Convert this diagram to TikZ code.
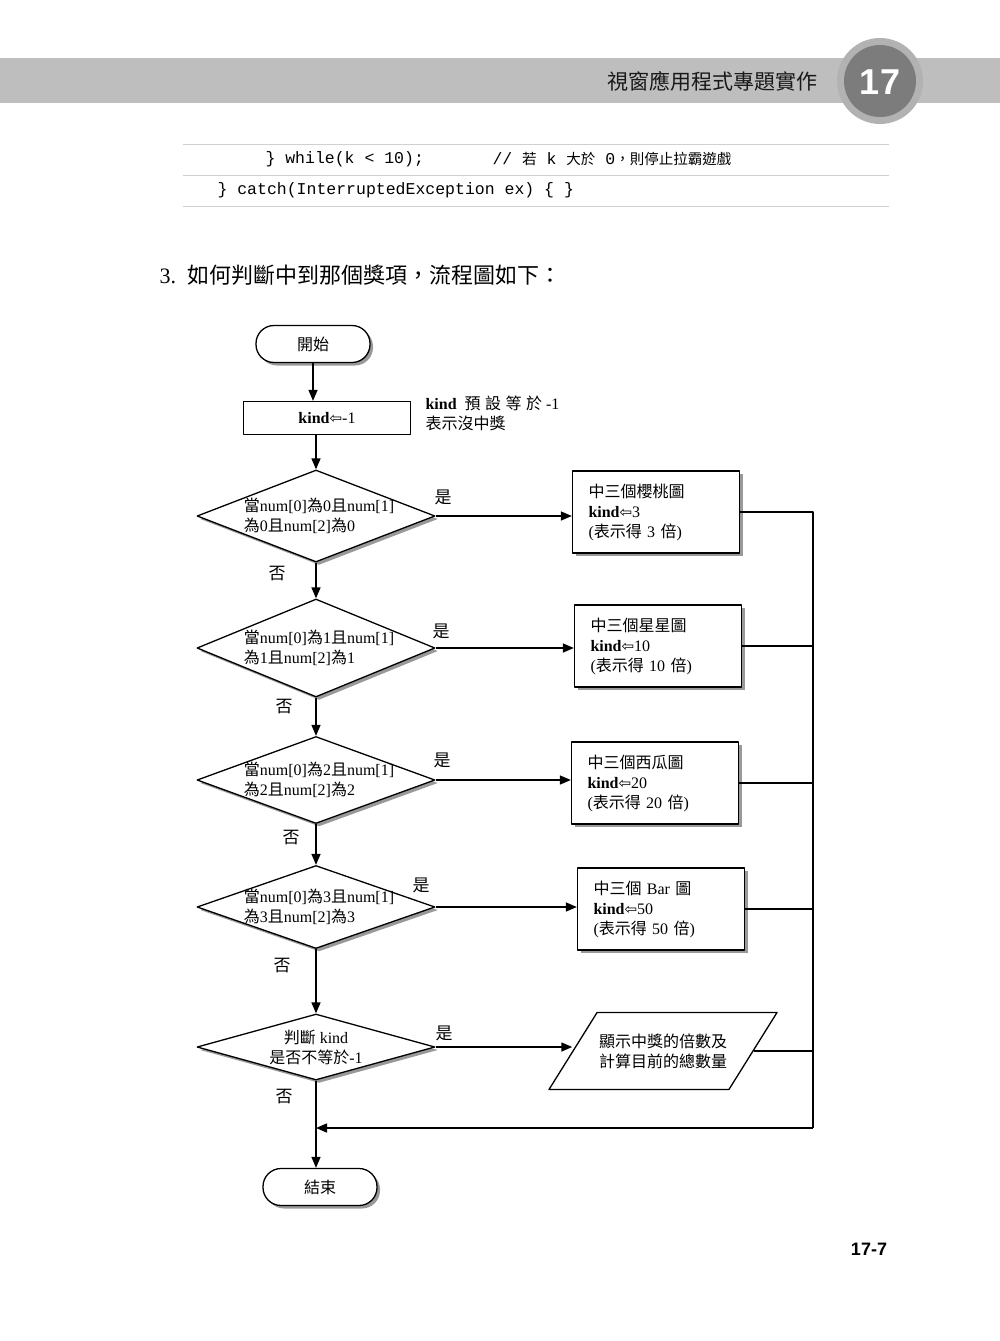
\documentclass[tikz,border=0pt]{standalone}
\usepackage{fontspec}
\setmainfont{Liberation Serif}
\setmonofont{Liberation Mono}
\newfontfamily\zhfont{Noto Sans CJK TC}
\newfontfamily\hdfont{Liberation Sans}
\newfontfamily\arrfont{DejaVu Sans}
\newcommand{\zh}[1]{{\zhfont #1}}
\newcommand{\zhs}[1]{{\zhfont\fontsize{14.5}{16}\selectfont #1}}
\newcommand{\kindarrow}{{\arrfont\fontsize{15}{15}\selectfont ⇦}}
\usetikzlibrary{shapes.geometric,shadows,arrows.meta,positioning}
\definecolor{bandgray}{HTML}{BEBEBE}
\definecolor{ringgray}{HTML}{B2B2B2}
\definecolor{diskgray}{HTML}{7C7C7C}
\definecolor{rulegray}{HTML}{D0D0D0}

\begin{document}
\begin{tikzpicture}[x=1pt, y=-1pt, >={Triangle[length=11pt, width=9pt]}, line join=round,
    font=\fontsize{16}{20}\selectfont,
    softshadow/.style={drop shadow={shadow xshift=3pt, shadow yshift=-3pt, fill=black!40, opacity=1}},
    term/.style={draw, line width=1.3pt, fill=white, rounded corners=18pt, minimum width=114pt, minimum height=37pt, softshadow},
    plain/.style={draw, line width=1.3pt, fill=white, minimum width=167pt, minimum height=33pt},
    box/.style={draw, line width=1.3pt, fill=white, align=left, text width=135pt, inner xsep=16pt, minimum height=82pt, softshadow},
    cond/.style={diamond, draw, line width=1.3pt, fill=white, inner sep=0pt, minimum width=238pt, softshadow},
    condtext/.style={align=left, font=\fontsize{16}{20}\selectfont},
    io/.style={trapezium, trapezium left angle=58, trapezium right angle=122, trapezium stretches body=true, draw, line width=1.3pt, fill=white, minimum width=228pt, inner ysep=21pt, align=center, inner xsep=0pt},
    ans/.style={font=\zhfont\fontsize{17}{17}\selectfont},
    code/.style={anchor=west, font=\ttfamily\fontsize{16.5}{18}\selectfont},
    flow/.style={->, line width=1.5pt},
    link/.style={line width=1.3pt}]
  \fill[white] (0,0) rectangle (1000,1341);
  \useasboundingbox (0,0) rectangle (1000,1341);

  % page head
  \fill[bandgray] (0,58) rectangle (1000,103);
  \fill[ringgray] (880,81) circle (43pt);
  \fill[diskgray] (880,81) circle (36pt);
  \node[font=\hdfont\bfseries\fontsize{36}{36}\selectfont, text=white] (chap) at (880,82) {17};
  \node[anchor=east, font=\zhfont\fontsize{21}{21}\selectfont, text=black!90] (ctitle) at (821,81) {視窗應用程式專題實作};

  % code lines
  \foreach \y in {144,175,206}
    \draw[rulegray, line width=0.8pt] (183,\y) -- (889,\y);
  \node[code] (loopend) at (262,159) {\} while(k < 10);};
  \node[code] (cmt) at (489,159) {// \zhs{若} k \zhs{大於} 0\zhs{，則停止拉霸遊戲}};
  \node[code] (catch) at (214,190) {\} catch(InterruptedException ex) \{ \}};

  \node[anchor=west, font=\fontsize{22}{24}\selectfont] (lead) at (156,275) {3.\hspace{11pt}\zh{如何判斷中到那個獎項，流程圖如下：}};

  % flowchart
  \node[term] (start) at (313,344) {\zh{開始}};
  \node[plain] (init) at (327,418) {\textbf{kind}\kindarrow-1};
  \node[anchor=north west, align=left] (hint) at (422,392) {\textbf{kind}~~\zh{預\;設\;等\;於}~-1\\\zh{表示沒中獎}};

  \node[cond, minimum height=92pt] (c0) at (316,516) {};
  \node[condtext] (c0t) at ([xshift=3pt]c0) {\zh{當}num[0]\zh{為}0\zh{且}num[1]\\\zh{為}0\zh{且}num[2]\zh{為}0};
  \node[cond, minimum height=98pt] (c1) at (316,648) {};
  \node[condtext] (c1t) at ([xshift=3pt]c1) {\zh{當}num[0]\zh{為}1\zh{且}num[1]\\\zh{為}1\zh{且}num[2]\zh{為}1};
  \node[cond, minimum height=87pt] (c2) at (316,780) {};
  \node[condtext] (c2t) at ([xshift=3pt]c2) {\zh{當}num[0]\zh{為}2\zh{且}num[1]\\\zh{為}2\zh{且}num[2]\zh{為}2};
  \node[cond, minimum height=83pt] (c3) at (316,907) {};
  \node[condtext] (c3t) at ([xshift=3pt]c3) {\zh{當}num[0]\zh{為}3\zh{且}num[1]\\\zh{為}3\zh{且}num[2]\zh{為}3};
  \node[cond, minimum height=66pt] (c4) at (316,1047) {};
  \node[condtext, align=center] (c4t) at (c4) {\zh{判斷} kind\\\zh{是否不等於}-1};

  \node[box] (b0) at (656,512) {\zh{中三個櫻桃圖}\\\textbf{kind}\kindarrow 3\\(\zh{表示得} 3 \zh{倍})};
  \node[box] (b1) at (658,646) {\zh{中三個星星圖}\\\textbf{kind}\kindarrow 10\\(\zh{表示得} 10 \zh{倍})};
  \node[box] (b2) at (655,783) {\zh{中三個西瓜圖}\\\textbf{kind}\kindarrow 20\\(\zh{表示得} 20 \zh{倍})};
  \node[box] (b3) at (661,909) {\zh{中三個} Bar \zh{圖}\\\textbf{kind}\kindarrow 50\\(\zh{表示得} 50 \zh{倍})};
  \node[io] (show) at (663,1051) {\zh{顯示中獎的倍數及}\\\zh{計算目前的總數量}};

  \node[term] (stop) at (320,1187) {\zh{結束}};

  % main line
  \draw[flow] (start) -- (start |- init.north);
  \draw[flow] (init.south -| c0.north) -- (c0.north);
  \draw[flow] (c0) -- (c1);
  \draw[flow] (c1) -- (c2);
  \draw[flow] (c2) -- (c3);
  \draw[flow] (c3) -- (c4);
  \draw[flow] (c4.south) -- (c4.south |- stop.north);

  % yes branches
  \draw[flow] (c0.east) -- (c0.east -| b0.west);
  \draw[flow] (c1.east) -- (c1.east -| b1.west);
  \draw[flow] (c2.east) -- (c2.east -| b2.west);
  \draw[flow] (c3.east) -- (c3.east -| b3.west);
  \draw[flow] (c4.east) -- (c4.east -| show.west);

  \node[ans] (y0) at (443,497) {是};
  \node[ans] (y1) at (441,631) {是};
  \node[ans] (y2) at (442,760) {是};
  \node[ans] (y3) at (421,885) {是};
  \node[ans] (y4) at (444,1033) {是};
  \node[ans] (n0) at (277,574) {否};
  \node[ans] (n1) at (284,707) {否};
  \node[ans] (n2) at (291,838) {否};
  \node[ans] (n3) at (282,966) {否};
  \node[ans] (n4) at (284,1097) {否};

  % back to the end
  \coordinate (busend) at (813,1128);
  \draw[link] (b0.east) -| (busend);
  \foreach \b in {b1,b2,b3,show}
    \draw[link] (\b.east) -- (\b.east -| busend);
  \draw[flow] (busend) -- (busend -| c4.south);

  \node[font=\hdfont\bfseries\fontsize{18}{18}\selectfont] (pageno) at (869,1249) {17-7};
\end{tikzpicture}
\end{document}
